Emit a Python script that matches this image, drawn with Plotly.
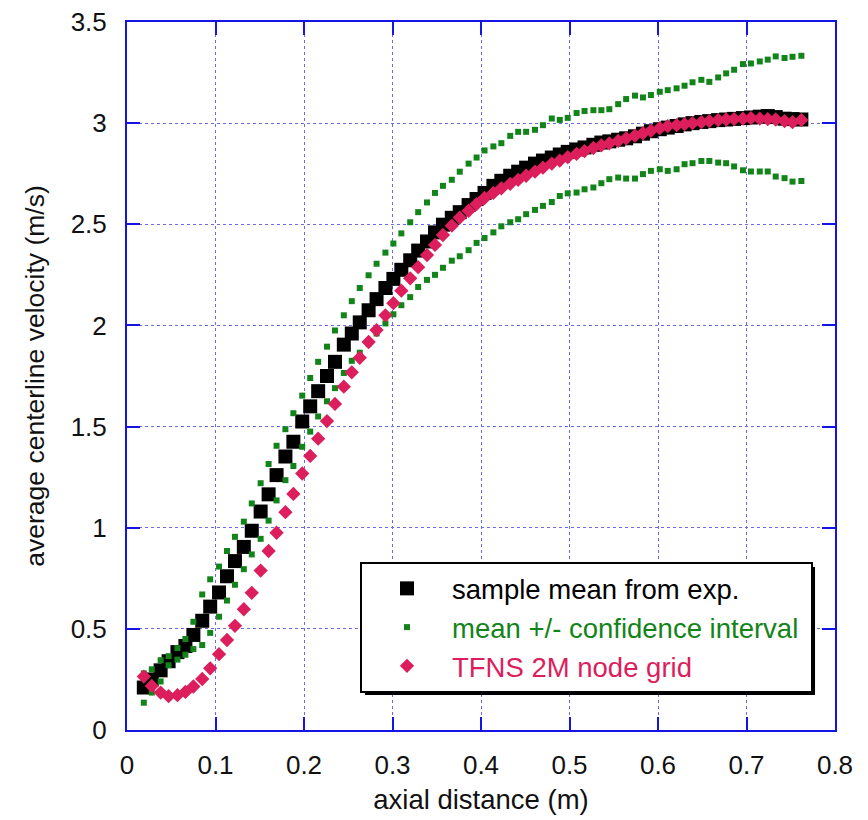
import plotly.graph_objects as go

# axial distance (m)
x_pos = [0.019, 0.028, 0.038, 0.047, 0.057, 0.066, 0.075, 0.085, 0.094, 0.104,
         0.113, 0.122, 0.132, 0.141, 0.151, 0.160, 0.169, 0.179, 0.188, 0.198,
         0.207, 0.216, 0.226, 0.235, 0.245, 0.254, 0.263, 0.273, 0.282, 0.292,
         0.301, 0.310, 0.320, 0.329, 0.339, 0.348, 0.357, 0.367, 0.376, 0.386,
         0.395, 0.404, 0.414, 0.423, 0.433, 0.442, 0.451, 0.461, 0.470, 0.480,
         0.489, 0.498, 0.508, 0.517, 0.527, 0.536, 0.545, 0.555, 0.564, 0.574,
         0.583, 0.592, 0.602, 0.611, 0.621, 0.630, 0.639, 0.649, 0.658, 0.668,
         0.677, 0.686, 0.696, 0.705, 0.715, 0.724, 0.733, 0.743, 0.752, 0.762]

# sample mean from experiment (m/s)
exp_mean = [0.21, 0.25, 0.295, 0.34, 0.385, 0.415, 0.47, 0.54, 0.61, 0.68,
            0.76, 0.835, 0.905, 0.985, 1.08, 1.165, 1.26, 1.352, 1.425, 1.525,
            1.60, 1.675, 1.75, 1.82, 1.905, 1.96, 2.015, 2.075, 2.13, 2.185,
            2.23, 2.275, 2.322, 2.37, 2.415, 2.46, 2.498, 2.532, 2.56, 2.595,
            2.625, 2.655, 2.69, 2.715, 2.74, 2.76, 2.78, 2.80, 2.815, 2.83,
            2.845, 2.858, 2.87, 2.88, 2.893, 2.904, 2.91, 2.918, 2.925, 2.935,
            2.948, 2.96, 2.97, 2.978, 2.986, 2.994, 3.0, 3.006, 3.01, 3.015,
            3.018, 3.021, 3.025, 3.028, 3.032, 3.035, 3.03, 3.022, 3.02, 3.018]

# mean + confidence interval
ci_upper = [0.28, 0.30, 0.345, 0.365, 0.405, 0.45, 0.535, 0.67, 0.745, 0.808,
            0.885, 0.955, 1.03, 1.12, 1.22, 1.315, 1.405, 1.487, 1.566, 1.653,
            1.74, 1.82, 1.895, 1.975, 2.05, 2.12, 2.185, 2.248, 2.305, 2.36,
            2.405, 2.455, 2.51, 2.56, 2.608, 2.655, 2.69, 2.72, 2.76, 2.80,
            2.83, 2.865, 2.885, 2.901, 2.937, 2.957, 2.957, 2.967, 2.99, 3.023,
            3.016, 3.026, 3.05, 3.06, 3.064, 3.064, 3.069, 3.094, 3.119, 3.136,
            3.127, 3.139, 3.155, 3.163, 3.172, 3.185, 3.202, 3.214, 3.204, 3.226,
            3.246, 3.264, 3.292, 3.295, 3.305, 3.314, 3.33, 3.322, 3.328, 3.333]

# mean - confidence interval
ci_lower = [0.135, 0.185, 0.24, 0.32, 0.348, 0.372, 0.40, 0.42, 0.48, 0.56,
            0.64, 0.718, 0.795, 0.868, 0.945, 1.035, 1.135, 1.235, 1.305, 1.40,
            1.475, 1.55, 1.625, 1.69, 1.765, 1.825, 1.865, 1.91, 1.96, 2.01,
            2.055, 2.10, 2.14, 2.19, 2.225, 2.25, 2.285, 2.32, 2.342, 2.372,
            2.408, 2.432, 2.46, 2.49, 2.51, 2.525, 2.55, 2.571, 2.591, 2.61,
            2.64, 2.653, 2.657, 2.673, 2.682, 2.703, 2.723, 2.731, 2.726, 2.726,
            2.748, 2.764, 2.772, 2.764, 2.772, 2.797, 2.802, 2.813, 2.813, 2.805,
            2.802, 2.786, 2.767, 2.761, 2.761, 2.761, 2.736, 2.728, 2.711, 2.714]

# TFNS 2M node grid simulation
tfns = [0.264, 0.218, 0.185, 0.167, 0.172, 0.188, 0.215, 0.252, 0.305, 0.375,
        0.445, 0.515, 0.597, 0.678, 0.788, 0.885, 0.975, 1.077, 1.167, 1.268,
        1.355, 1.44, 1.527, 1.612, 1.697, 1.768, 1.84, 1.918, 1.977, 2.05,
        2.11, 2.172, 2.233, 2.288, 2.348, 2.398, 2.447, 2.493, 2.533, 2.567,
        2.60, 2.63, 2.655, 2.678, 2.70, 2.72, 2.74, 2.76, 2.78, 2.80,
        2.815, 2.832, 2.848, 2.862, 2.877, 2.89, 2.90, 2.912, 2.925, 2.938,
        2.95, 2.962, 2.975, 2.985, 2.99, 2.995, 3.0, 3.005, 3.01, 3.015,
        3.018, 3.02, 3.022, 3.025, 3.022, 3.02, 3.018, 3.01, 3.005, 3.015]

x_ticks = [0, 0.1, 0.2, 0.3, 0.4, 0.5, 0.6, 0.7, 0.8]
y_ticks = [0, 0.5, 1, 1.5, 2, 2.5, 3, 3.5]

GREEN = "#12841a"
PINK = "#dc1e5c"
BLUE = "#1414e6"
FONT = "Liberation Sans, Arial, Helvetica, sans-serif"

fig = go.Figure()
fig.add_trace(go.Scatter(
    x=x_pos, y=exp_mean, mode="markers", name="sample mean from exp.",
    marker=dict(symbol="square", size=14, color="black", line=dict(width=0))))
fig.add_trace(go.Scatter(
    x=x_pos, y=ci_upper, mode="markers",
    name="<span style='color:%s'>mean +/- confidence interval\u00a0</span>" % GREEN,
    legendgroup="ci",
    marker=dict(symbol="square", size=6, color=GREEN, line=dict(width=0))))
fig.add_trace(go.Scatter(
    x=x_pos, y=ci_lower, mode="markers", name="ci_lower", legendgroup="ci",
    showlegend=False,
    marker=dict(symbol="square", size=6, color=GREEN, line=dict(width=0))))
fig.add_trace(go.Scatter(
    x=x_pos, y=tfns, mode="markers",
    name="<span style='color:%s'>TFNS 2M node grid</span>" % PINK,
    marker=dict(symbol="diamond", size=11, color=PINK, line=dict(width=0))))

axis_common = dict(
    showline=True, linecolor=BLUE, linewidth=2, mirror="ticks",
    ticks="inside", ticklen=13, tickwidth=2, tickcolor=BLUE,
    showgrid=True, gridcolor="#6a6af0", gridwidth=1, griddash="dot",
    zeroline=False, tickfont=dict(family=FONT, size=26, color="#111"),
    automargin=False, ticklabeloverflow="allow",
)

fig.update_xaxes(range=[0, 0.8], tickvals=x_ticks, ticklabelstandoff=11,
                 title=dict(text="axial distance (m)", standoff=11,
                            font=dict(family=FONT, size=27.5, color="#111")),
                 **axis_common)
fig.update_yaxes(range=[0, 3.5], tickvals=y_ticks, ticklabelstandoff=13,
                 title=dict(text="average centerline velocity (m/s)", standoff=18,
                            font=dict(family=FONT, size=26.5, color="#111")),
                 **axis_common)

# legend drop shadow
fig.add_shape(type="rect", xref="paper", yref="paper",
              x0=0.3362, x1=0.9718, y0=0.0494, y1=0.2302,
              fillcolor="black", line=dict(width=0), layer="above")

fig.update_layout(
    width=860, height=812,
    margin=dict(l=119, r=33, t=14, b=90, pad=0),
    plot_bgcolor="white", paper_bgcolor="white",
    font=dict(family=FONT, size=26, color="black"),
    showlegend=True,
    legend=dict(x=0.3291, y=0.2373, xanchor="left", yanchor="top",
                bgcolor="white", bordercolor="black", borderwidth=2,
                font=dict(family=FONT, size=27.5, color="black"),
                itemwidth=80, tracegroupgap=0),
)

fig.write_html("out.html")
